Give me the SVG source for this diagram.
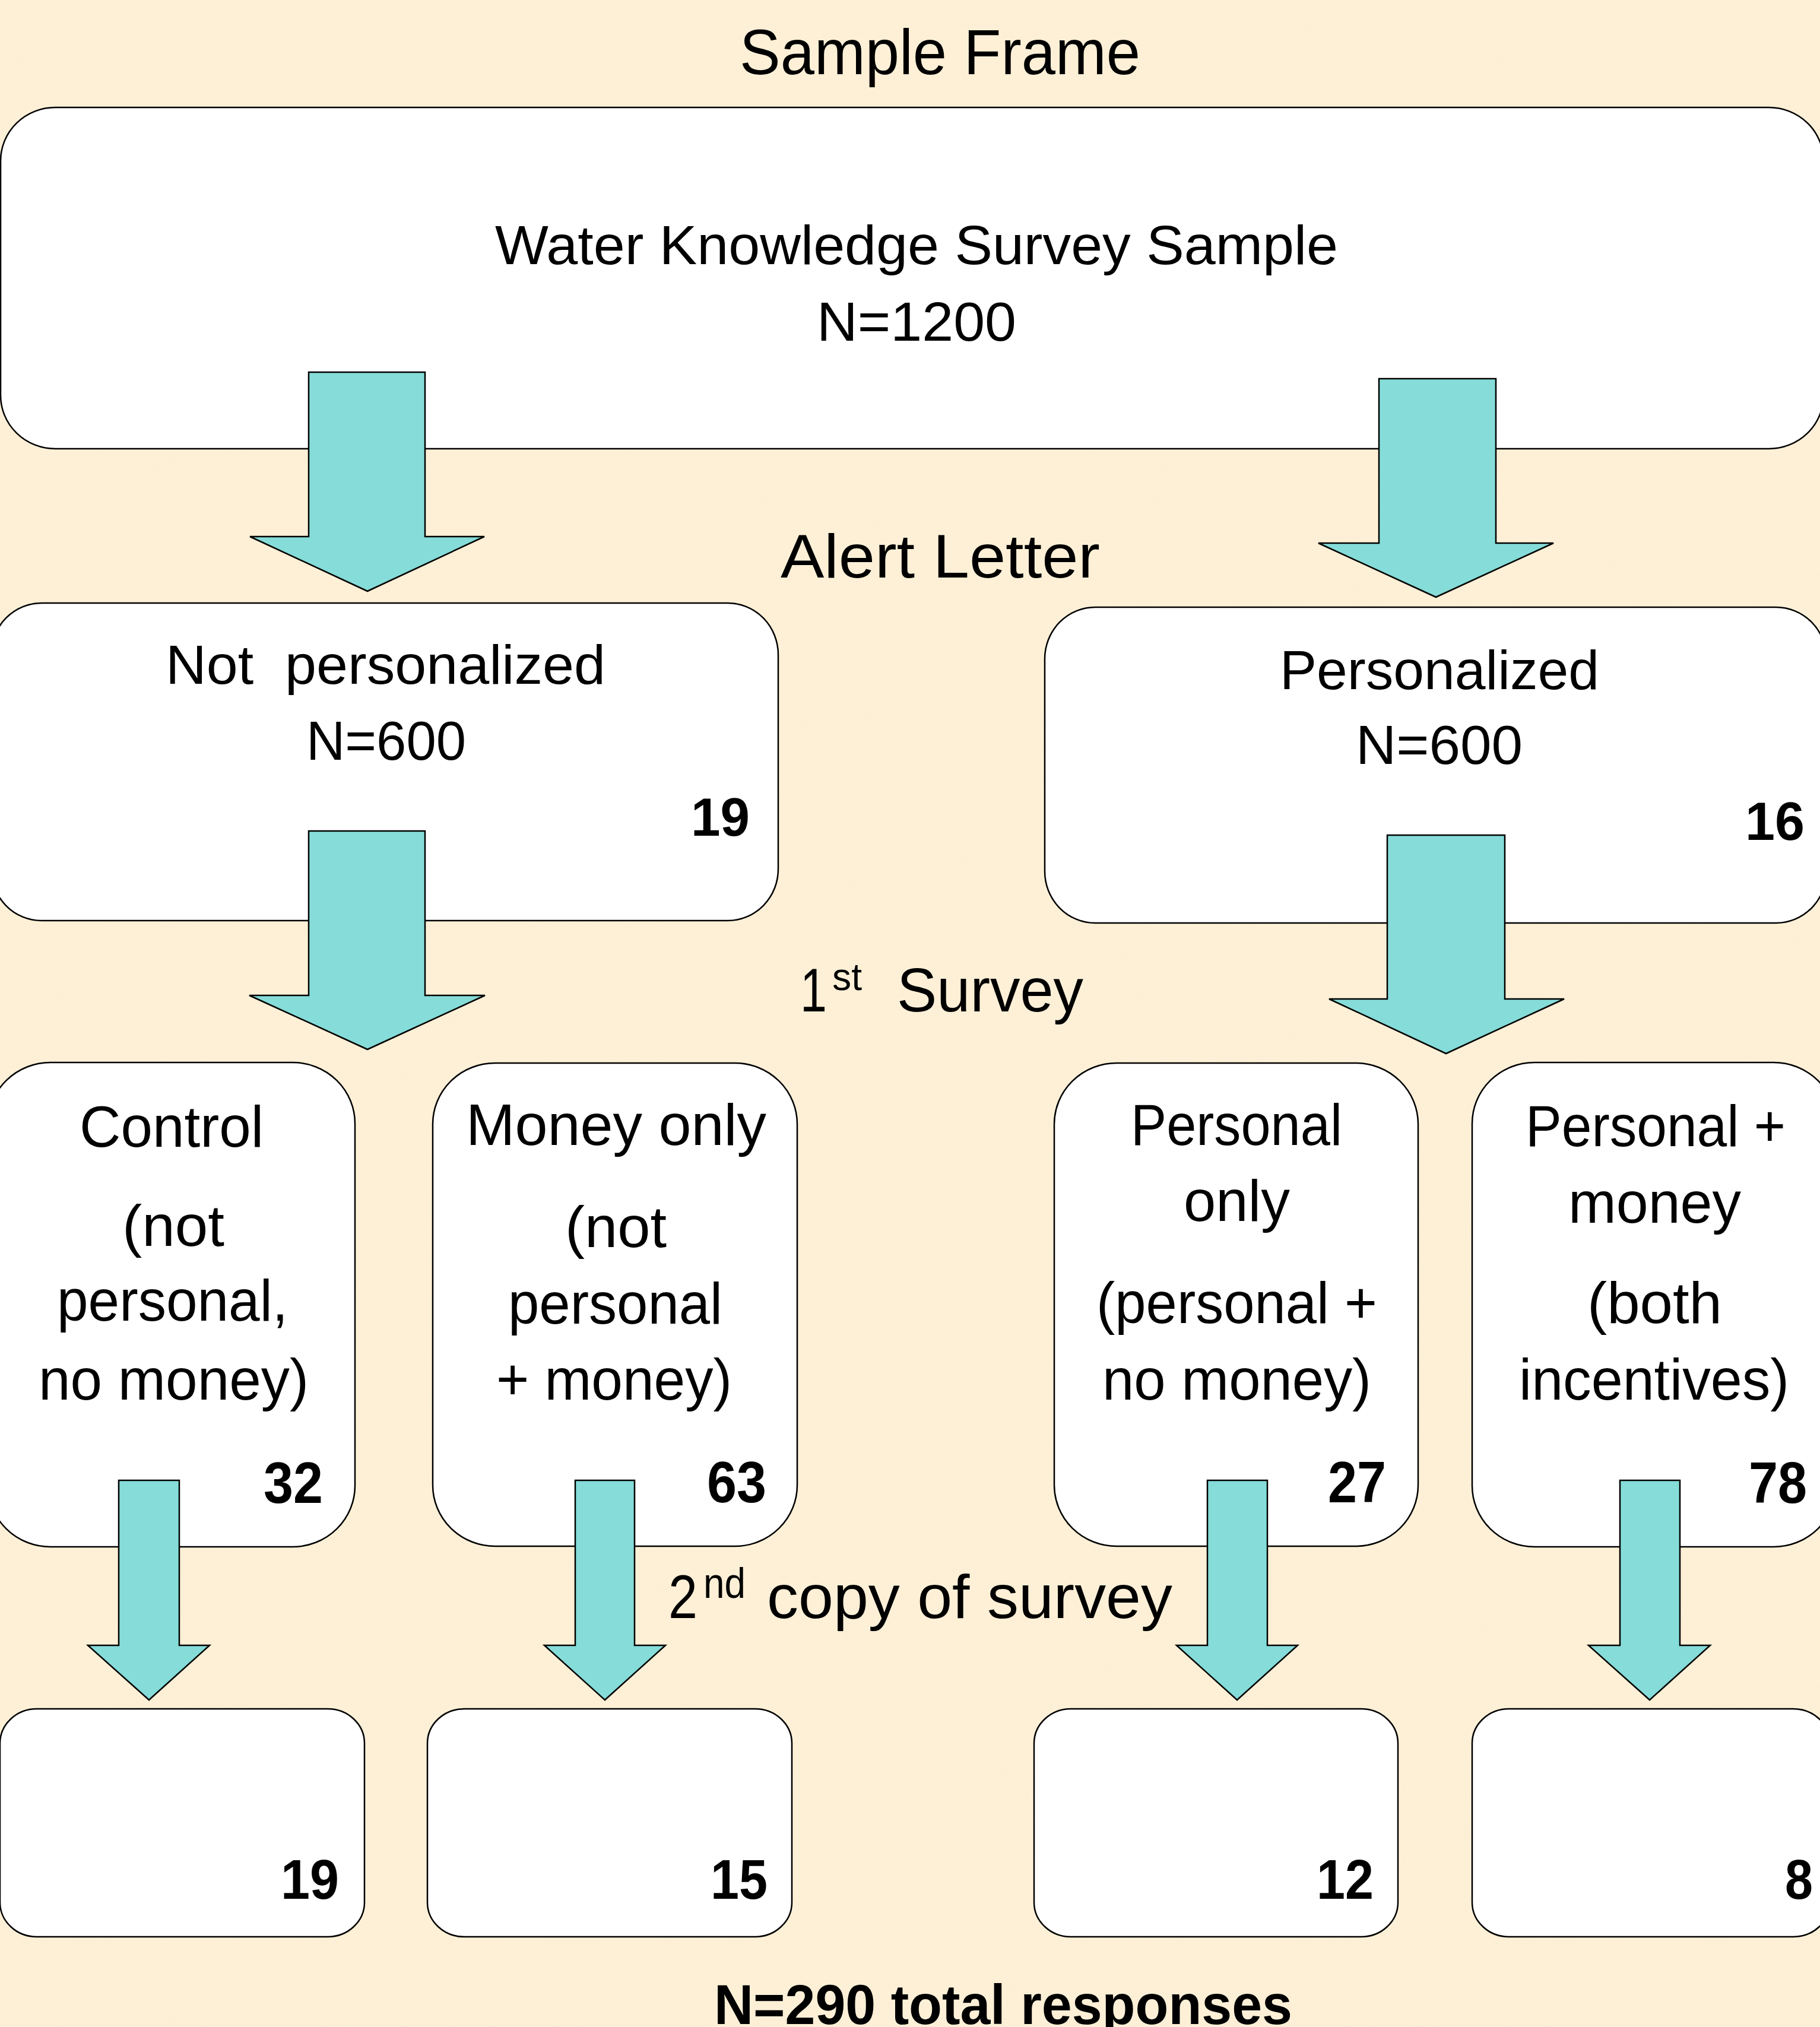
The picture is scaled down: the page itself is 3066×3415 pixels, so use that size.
<svg xmlns="http://www.w3.org/2000/svg" width="3066" height="3415" viewBox="0 0 3066 3415">
<defs>
<filter id="tex" x="0" y="0" width="100%" height="100%">
<feTurbulence type="fractalNoise" baseFrequency="0.012 0.03" numOctaves="3" seed="7" result="n"/>
<feColorMatrix in="n" type="matrix" values="0 0 0 0 0.93  0 0 0 0 0.84  0 0 0 0 0.66  0 0 0 0.9 -0.35"/>
</filter>
<style>
.box{fill:#ffffff;stroke:#000000;stroke-width:2.5}
.arrow{fill:#85dcd8;stroke:#000000;stroke-width:2.5;stroke-linejoin:miter}
.t{font-family:"Liberation Sans",Arial,sans-serif;fill:#000000}
.b{font-family:"Liberation Sans",Arial,sans-serif;font-weight:bold;fill:#000000}
</style>
</defs>
<rect x="0" y="0" width="3066" height="3415" fill="#fdf0d7"/>
<rect x="0" y="0" width="3066" height="3415" filter="url(#tex)" opacity="0.35"/>

<text class="t" x="1246" y="125" font-size="107" textLength="675" lengthAdjust="spacingAndGlyphs">Sample Frame</text>
<text class="t" x="1315" y="973" font-size="103" textLength="538" lengthAdjust="spacingAndGlyphs">Alert Letter</text>
<text class="t" font-size="103"><tspan x="1348" y="1704" textLength="45" lengthAdjust="spacingAndGlyphs">1</tspan><tspan x="1402" y="1668" font-size="64" textLength="50" lengthAdjust="spacingAndGlyphs">st</tspan><tspan x="1511" y="1704" textLength="314" lengthAdjust="spacingAndGlyphs">Survey</tspan></text>
<text class="t" font-size="103"><tspan x="1126" y="2726" textLength="49" lengthAdjust="spacingAndGlyphs">2</tspan><tspan x="1185" y="2692" font-size="72" textLength="71" lengthAdjust="spacingAndGlyphs">nd</tspan><tspan x="1292" y="2726" textLength="683" lengthAdjust="spacingAndGlyphs">copy of survey</tspan></text>
<text class="b" x="1203" y="3410" font-size="94" textLength="974" lengthAdjust="spacingAndGlyphs">N=290 total responses</text>

<g id="node-sample">
<rect class="box" x="1" y="181" width="3071" height="575" rx="92" ry="90"/>
<text class="t" x="834" y="445" font-size="92" textLength="1420" lengthAdjust="spacingAndGlyphs">Water Knowledge Survey Sample</text>
<text class="t" x="1376" y="574" font-size="92" textLength="336" lengthAdjust="spacingAndGlyphs">N=1200</text>
</g>

<g id="node-notpersonalized">
<rect class="box" x="-15" y="1016" width="1326" height="535" rx="85" ry="87"/>
<text class="t" x="279" y="1152" font-size="92" textLength="741" lengthAdjust="spacingAndGlyphs" xml:space="preserve">Not  personalized</text>
<text class="t" x="516" y="1280" font-size="92" textLength="269" lengthAdjust="spacingAndGlyphs">N=600</text>
<text class="b" x="1164" y="1408" font-size="91" textLength="99" lengthAdjust="spacingAndGlyphs">19</text>
</g>

<g id="node-personalized">
<rect class="box" x="1760" y="1023" width="1317" height="532" rx="85" ry="87"/>
<text class="t" x="2156" y="1161" font-size="92" textLength="538" lengthAdjust="spacingAndGlyphs">Personalized</text>
<text class="t" x="2284" y="1287" font-size="92" textLength="281" lengthAdjust="spacingAndGlyphs">N=600</text>
<text class="b" x="2940" y="1415" font-size="91" textLength="100" lengthAdjust="spacingAndGlyphs">16</text>
</g>

<g id="node-control">
<rect class="box" x="-20" y="1790" width="618" height="816" rx="105" ry="103"/>
<text class="t" x="134" y="1932" font-size="98" textLength="310" lengthAdjust="spacingAndGlyphs">Control</text>
<text class="t" x="206" y="2099" font-size="98" textLength="172" lengthAdjust="spacingAndGlyphs">(not</text>
<text class="t" x="96" y="2225" font-size="98" textLength="389" lengthAdjust="spacingAndGlyphs">personal,</text>
<text class="t" x="65" y="2358" font-size="98" textLength="455" lengthAdjust="spacingAndGlyphs">no money)</text>
<text class="b" x="444" y="2532" font-size="98" textLength="100" lengthAdjust="spacingAndGlyphs">32</text>
</g>

<g id="node-moneyonly">
<rect class="box" x="729" y="1791" width="614" height="814" rx="105" ry="103"/>
<text class="t" x="785" y="1929" font-size="98" textLength="506" lengthAdjust="spacingAndGlyphs">Money only</text>
<text class="t" x="952" y="2101" font-size="98" textLength="171" lengthAdjust="spacingAndGlyphs">(not</text>
<text class="t" x="856" y="2230" font-size="98" textLength="361" lengthAdjust="spacingAndGlyphs">personal</text>
<text class="t" x="836" y="2358" font-size="98" textLength="397" lengthAdjust="spacingAndGlyphs">+ money)</text>
<text class="b" x="1191" y="2531" font-size="98" textLength="100" lengthAdjust="spacingAndGlyphs">63</text>
</g>

<g id="node-personalonly">
<rect class="box" x="1776" y="1791" width="613" height="814" rx="105" ry="103"/>
<text class="t" x="1905" y="1929" font-size="98" textLength="356" lengthAdjust="spacingAndGlyphs">Personal</text>
<text class="t" x="1994" y="2057" font-size="98" textLength="179" lengthAdjust="spacingAndGlyphs">only</text>
<text class="t" x="1847" y="2229" font-size="98" textLength="473" lengthAdjust="spacingAndGlyphs">(personal +</text>
<text class="t" x="1857" y="2358" font-size="98" textLength="453" lengthAdjust="spacingAndGlyphs">no money)</text>
<text class="b" x="2237" y="2531" font-size="98" textLength="98" lengthAdjust="spacingAndGlyphs">27</text>
</g>

<g id="node-personalmoney">
<rect class="box" x="2480" y="1790" width="613" height="816" rx="105" ry="103"/>
<text class="t" x="2570" y="1931" font-size="98" textLength="438" lengthAdjust="spacingAndGlyphs">Personal +</text>
<text class="t" x="2642" y="2060" font-size="98" textLength="291" lengthAdjust="spacingAndGlyphs">money</text>
<text class="t" x="2674" y="2229" font-size="98" textLength="227" lengthAdjust="spacingAndGlyphs">(both</text>
<text class="t" x="2559" y="2358" font-size="98" textLength="455" lengthAdjust="spacingAndGlyphs">incentives)</text>
<text class="b" x="2946" y="2532" font-size="98" textLength="98" lengthAdjust="spacingAndGlyphs">78</text>
</g>

<g id="node-r1">
<rect class="box" x="0" y="2879" width="614" height="384" rx="62" ry="58"/>
<text class="b" x="473" y="3199" font-size="95" textLength="98" lengthAdjust="spacingAndGlyphs">19</text>
</g>
<g id="node-r2">
<rect class="box" x="720" y="2879" width="614" height="384" rx="62" ry="58"/>
<text class="b" x="1197" y="3199" font-size="95" textLength="96" lengthAdjust="spacingAndGlyphs">15</text>
</g>
<g id="node-r3">
<rect class="box" x="1742" y="2879" width="613" height="384" rx="62" ry="58"/>
<text class="b" x="2218" y="3199" font-size="95" textLength="96" lengthAdjust="spacingAndGlyphs">12</text>
</g>
<g id="node-r4">
<rect class="box" x="2480" y="2879" width="603" height="384" rx="62" ry="58"/>
<text class="b" x="3007" y="3199" font-size="95" textLength="47" lengthAdjust="spacingAndGlyphs">8</text>
</g>

<g id="connectors">
<polygon class="arrow" points="520,627 716,627 716,904 816,904 619,996 421,904 520,904"/>
<polygon class="arrow" points="2323,638 2520,638 2520,915 2617,915 2419,1006 2221,915 2323,915"/>
<polygon class="arrow" points="520,1400 716,1400 716,1677 817,1677 619,1768 420,1677 520,1677"/>
<polygon class="arrow" points="2337,1407 2535,1407 2535,1683 2635,1683 2436,1775 2239,1683 2337,1683"/>
<polygon class="arrow" points="200,2494 302,2494 302,2772 353,2772 251,2864 148,2772 200,2772"/>
<polygon class="arrow" points="969,2494 1069,2494 1069,2772 1121,2772 1019,2864 917,2772 969,2772"/>
<polygon class="arrow" points="2034,2494 2135,2494 2135,2772 2186,2772 2084,2864 1982,2772 2034,2772"/>
<polygon class="arrow" points="2729,2494 2830,2494 2830,2772 2881,2772 2779,2864 2676,2772 2729,2772"/>
</g>
</svg>
